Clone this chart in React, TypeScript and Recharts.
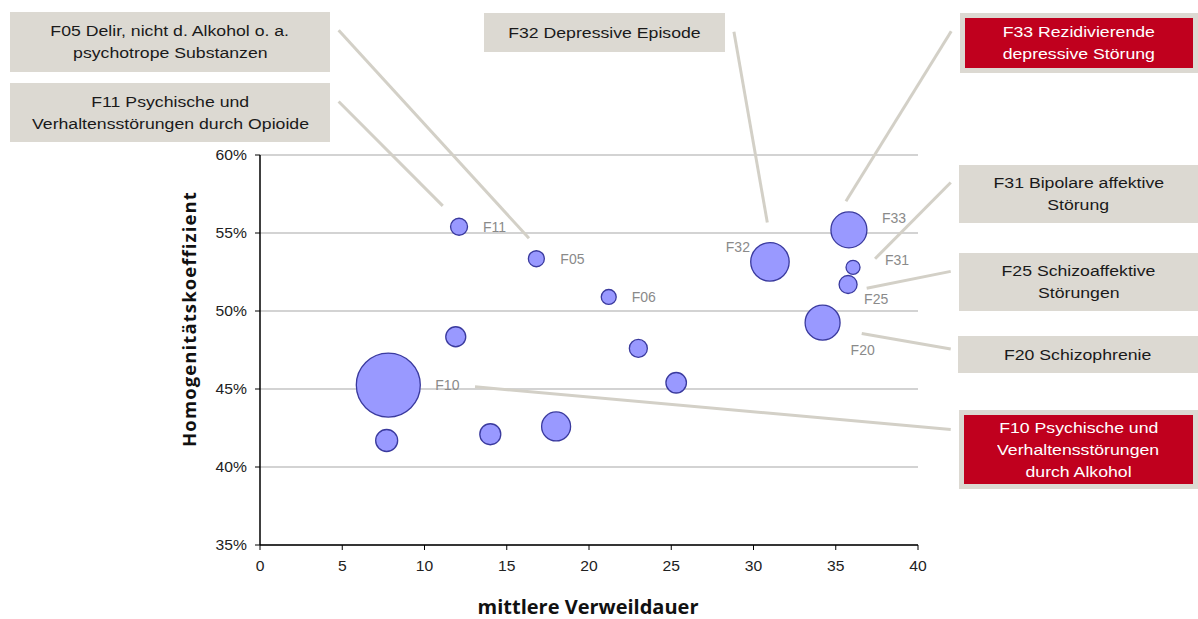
import React from 'react';
import { ScatterChart, Scatter, XAxis, YAxis, ZAxis, CartesianGrid, ReferenceLine } from 'recharts';

// ---- data ----
const codes = ['F11', 'F05', 'F06', 'F32', 'F33', 'F31', 'F25', 'F20', 'F10', '', '', '', '', '', ''];
const stay = [12.1, 16.8, 21.2, 31.0, 35.8, 36.05, 35.75, 34.2, 7.8, 11.9, 7.7, 14.0, 18.0, 23.0, 25.3];
const homogeneity = [55.4, 53.35, 50.9, 53.15, 55.2, 52.8, 51.7, 49.25, 45.25, 48.35, 41.7, 42.1, 42.6, 47.6, 45.4];
const caseWeight = [72, 64, 56, 370, 324, 49, 81, 306, 1024, 100, 121, 110, 210, 81, 105];

const xTicks = [0, 5, 10, 15, 20, 25, 30, 35, 40];
const yTicks = [35, 40, 45, 50, 55, 60];

// callout connector segments (data coordinates): from box side -> near bubble
const calloutCodes = ['F05', 'F11', 'F32', 'F33', 'F31', 'F25', 'F20', 'F10'];
const calloutFromX = [4.78, 4.78, 28.81, 42.02, 41.99, 41.99, 41.99, 41.99];
const calloutFromY = [68.0, 63.43, 67.9, 67.93, 58.24, 52.54, 47.56, 42.41];
const calloutToX = [16.35, 11.11, 30.84, 35.62, 37.39, 36.88, 36.58, 13.07];
const calloutToY = [54.66, 56.74, 55.67, 57.04, 53.35, 51.46, 48.56, 45.14];

const boxTexts = [
  ['F05 Delir, nicht d. Alkohol o. a.', 'psychotrope Substanzen'],
  ['F11 Psychische und', 'Verhaltensstörungen durch Opioide'],
  ['F32 Depressive Episode'],
  ['F33 Rezidivierende', 'depressive Störung'],
  ['F31 Bipolare affektive', 'Störung'],
  ['F25 Schizoaffektive', 'Störungen'],
  ['F20 Schizophrenie'],
  ['F10 Psychische und', 'Verhaltensstörungen', 'durch Alkohol'],
];
const boxHighlighted = [false, false, false, true, false, false, false, true];

const data = codes.map((c, i) => ({ name: c, x: stay[i], y: homogeneity[i], z: caseWeight[i] }));

// ---- layout / style ----
const boxLayout: { left: number; top: number; w: number; h: number }[] = [
  { left: 10, top: 12, w: 320, h: 60 },
  { left: 10, top: 83, w: 320, h: 59 },
  { left: 484, top: 13, w: 241, h: 39 },
  { left: 960, top: 13, w: 238, h: 60 },
  { left: 959, top: 165, w: 239, h: 58 },
  { left: 959, top: 253, w: 239, h: 58 },
  { left: 958, top: 336, w: 240, h: 37 },
  { left: 959, top: 410, w: 239, h: 79 },
];

const labelOffset: Record<string, [number, number, 'start' | 'end']> = {
  F11: [24, 0, 'start'],
  F05: [24, 0, 'start'],
  F06: [23, 0, 'start'],
  F32: [-20, -15, 'end'],
  F33: [33, -12, 'start'],
  F31: [32, -7, 'start'],
  F25: [16, 15, 'start'],
  F20: [28, 27, 'start'],
  F10: [47, 0, 'start'],
};

const BubbleShape = (props: any) => {
  const { cx, cy, payload } = props;
  let r = 0;
  if (typeof props.width === 'number' && props.width > 0) r = props.width / 2;
  else if (typeof props.size === 'number') r = Math.sqrt(props.size / Math.PI);
  const name = payload?.name;
  const off = name ? labelOffset[name] : undefined;
  return (
    <g>
      <circle cx={cx} cy={cy} r={r} fill="#9999ff" stroke="#3a3a9e" strokeWidth={1.3} />
      {off && (
        <text
          x={cx + off[0]}
          y={cy + off[1]}
          dy="0.35em"
          textAnchor={off[2]}
          fontFamily="Liberation Sans, Arial, sans-serif"
          fontSize={14}
          fill="#8a8a8a"
        >
          {name}
        </text>
      )}
    </g>
  );
};

const TICK_FONT = 'Liberation Sans, Arial, sans-serif';

const XTick = (p: any) => (
  <g transform={`translate(${p.x},${p.y})`}>
    <text x={0} y={0} dy="0.71em" textAnchor="middle" transform="scale(1.12,1)" fontFamily={TICK_FONT} fontSize={14} fill="#222">
      {p.payload.value}
    </text>
  </g>
);

const YTick = (p: any) => (
  <g transform={`translate(${p.x},${p.y})`}>
    <text x={0} y={0} dy="0.35em" textAnchor="end" transform="scale(1.12,1)" fontFamily={TICK_FONT} fontSize={14} fill="#222">
      {`${p.payload.value}%`}
    </text>
  </g>
);

export default function App() {
  return (
    <div style={{ position: 'absolute', left: 0, top: 0, width: 1198, height: 619, background: '#fff', overflow: 'hidden' }}>
      <ScatterChart width={1198} height={619} margin={{ top: 155, right: 280, bottom: 44, left: 200 }}>
        <CartesianGrid vertical={false} stroke="#c4c4c4" strokeWidth={1.5} />
        <XAxis
          type="number"
          dataKey="x"
          domain={[0, 40]}
          ticks={xTicks}
          interval={0}
          height={30}
          axisLine={{ stroke: '#000', strokeWidth: 1.5 }}
          tickLine={{ stroke: '#000' }}
          tickSize={5}
          tickMargin={11}
          tick={<XTick />}
        />
        <YAxis
          type="number"
          dataKey="y"
          domain={[35, 60]}
          ticks={yTicks}
          interval={0}
          width={60}
          axisLine={{ stroke: '#000', strokeWidth: 1.5 }}
          tickLine={{ stroke: '#000' }}
          tickSize={5}
          tickMargin={8}
          tick={<YTick />}
        />
        <ZAxis type="number" dataKey="z" domain={[0, 1024]} range={[0, Math.PI * 1024]} />
        {calloutCodes.map((c, i) => (
          <ReferenceLine
            key={c}
            segment={[
              { x: calloutFromX[i], y: calloutFromY[i] },
              { x: calloutToX[i], y: calloutToY[i] },
            ]}
            ifOverflow="visible"
            stroke="#d3d0c7"
            strokeWidth={3}
          />
        ))}
        <Scatter data={data} shape={BubbleShape} isAnimationActive={false} />
      </ScatterChart>

      <svg width={1198} height={619} style={{ position: 'absolute', left: 0, top: 0, pointerEvents: 'none' }}>
        <text
          x={190}
          y={319}
          transform="rotate(-90 190 319)"
          textAnchor="middle"
          dy="0.35em"
          fontFamily="Open Sans, sans-serif"
          fontWeight="bold"
          fontSize={18.5}
          letterSpacing={1.1}
          fill="#111"
        >
          Homogenitätskoeffizient
        </text>
        <text
          x={588}
          y={614}
          textAnchor="middle"
          fontFamily="Open Sans, sans-serif"
          fontWeight="bold"
          fontSize={20}
          fill="#111"
        >
          mittlere Verweildauer
        </text>
      </svg>

      {boxTexts.map((lines, i) => {
        const b = boxLayout[i];
        const hi = boxHighlighted[i];
        return (
          <div
            key={i}
            style={{
              position: 'absolute',
              left: b.left,
              top: b.top,
              width: b.w,
              height: b.h,
              background: '#dcd9d2',
              boxSizing: 'border-box',
              padding: hi ? 5 : 0,
            }}
          >
            <div
              style={{
                width: '100%',
                height: '100%',
                background: hi ? '#c0001e' : 'transparent',
                color: hi ? '#fff' : '#1a1a1a',
                display: 'flex',
                flexDirection: 'column',
                alignItems: 'center',
                justifyContent: 'center',
                fontFamily: 'Liberation Sans, Arial, sans-serif',
                fontSize: 15.5,
                lineHeight: '22px',
                textAlign: 'center',
              }}
            >
              {lines.map((l, j) => (
                <div key={j} style={{ transform: 'scaleX(1.14)', whiteSpace: 'nowrap' }}>
                  {l}
                </div>
              ))}
            </div>
          </div>
        );
      })}
    </div>
  );
}
